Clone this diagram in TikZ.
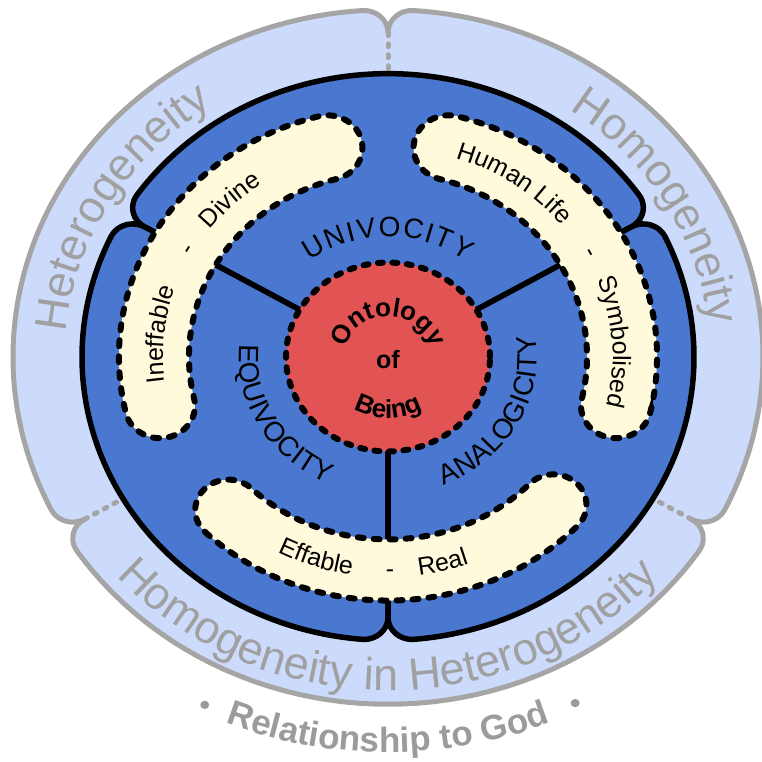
\documentclass[tikz,border=0pt]{standalone}
\usepackage{fontspec}
\setmainfont{Liberation Sans}
\usetikzlibrary{decorations.text}

\definecolor{ringfill}{RGB}{204,219,251}
\definecolor{ringline}{RGB}{165,165,165}
\definecolor{ringtext}{RGB}{160,160,160}
\definecolor{godtext}{RGB}{155,155,155}
\definecolor{diskblue}{RGB}{74,120,208}
\definecolor{bandcream}{RGB}{255,250,220}
\definecolor{corered}{RGB}{226,84,84}

\tikzset{
  ringlobe/.style={fill=ringfill},
  ringedge/.style={draw=ringline, line width=5pt, line join=round},
  ringseam/.style={draw=ringline, line width=5pt, line cap=round, dash pattern=on 3pt off 8pt},
  disklobe/.style={fill=diskblue, draw=black, line width=5.5pt, line join=round},
  bandshape/.style={fill=bandcream, draw=black, line width=6pt, line cap=round, dash pattern=on 6pt off 10pt},
  coreshape/.style={fill=corered, draw=black, line width=6pt, line cap=round, dash pattern=on 5pt off 9.5pt},
  ringword/.style={decorate, decoration={text along path, text align=center, text color=ringtext,
      text={|\fontsize{45}{45}\selectfont|#1}}},
  godword/.style={decorate, decoration={text along path, text align=center, text color=godtext,
      text={|\fontsize{35}{35}\selectfont\bfseries|#1}}},
  bandword/.style={decorate, decoration={text along path, text align=center, text color=black,
      text={|\fontsize{25}{25}\selectfont|#1}}},
  modeword/.style={decorate, decoration={text along path, text align=fit to path, text color=black,
      text={|\fontsize{28}{28}\selectfont|#1}}},
  coreword/.style={decorate, decoration={text along path, text align=center, text color=black,
      text={|\fontsize{26}{26}\selectfont\bfseries|#1}}},
}

\begin{document}
\begin{tikzpicture}[x=1pt, y=1pt]
\useasboundingbox (-388,-405) rectangle (374,357);
\begin{scope}[yscale=0.926]
  % corner geometry of the rounded lobes
  \pgfmathsetmacro\bdel{asin(24/282)}
  \pgfmathsetmacro\bd{282*cos(\bdel)}
  \pgfmathsetmacro\rdel{asin(24/351)}
  \pgfmathsetmacro\rd{351*cos(\rdel)}

  % outer light ring: three lobes
  \foreach \a/\b in {90/210, 210/330, 330/450} {
    \path[ringlobe] (0,0) -- (\a:\rd)
      arc[start angle=\a-90, end angle=\a+\rdel, radius=24]
      arc[start angle=\a+\rdel, end angle=\b-\rdel, radius=375]
      arc[start angle=\b-\rdel, end angle=\b+90, radius=24] -- cycle;
  }
  \foreach \a/\b in {90/210, 210/330, 330/450} {
    \draw[ringedge] (\a:\rd)
      arc[start angle=\a-90, end angle=\a+\rdel, radius=24]
      arc[start angle=\a+\rdel, end angle=\b-\rdel, radius=375]
      arc[start angle=\b-\rdel, end angle=\b+90, radius=24];
  }
  \foreach \a in {90, 210, 330} {
    \draw[ringseam] (\a:\rd) -- (\a:306);
  }

  % blue disk: three lobes meeting along the spokes
  \foreach \a/\b in {30/150, 150/270, 270/390} {
    \path[disklobe] (0,0) -- (\a:\bd)
      arc[start angle=\a-90, end angle=\a+\bdel, radius=24]
      arc[start angle=\a+\bdel, end angle=\b-\bdel, radius=306]
      arc[start angle=\b-\bdel, end angle=\b+90, radius=24] -- cycle;
  }

  % cream bands
  \foreach \a/\b/\r/\h in {105/193/234/35, -13/75/234/35, 226/316/230/33} {
    \path[bandshape] ({\a}:{\r+\h})
      arc[start angle=\a, end angle=\b, radius=\r+\h]
      arc[start angle=\b, end angle=\b+180, radius=\h]
      arc[start angle=\b, end angle=\a, radius=\r-\h]
      arc[start angle=\a+180, end angle=\a+360, radius=\h] -- cycle;
  }

  % central circle
  \path[coreshape] (0,0) circle (102);

  % ring labels
  \path[ringword=Heterogeneity] (205:323) arc[start angle=205, end angle=95, radius=323];
  \path[ringword=Homogeneity] (85:323) arc[start angle=85, end angle=-25, radius=323];
  \path[ringword=Homogeneity in Heterogeneity] (215:360) arc[start angle=215, end angle=325, radius=360];
  \path[godword=Relationship to God] (235:427) arc[start angle=235, end angle=305, radius=427];
  \fill[godtext] (244:418) circle (4.5);
  \fill[godtext] (296.6:418) circle (4.5);

  % band labels
  \path[bandword=Ineffable] (200:225) arc[start angle=200, end angle=148, radius=225];
  \path[bandword=-] (160:225) arc[start angle=160, end angle=140, radius=225];
  \path[bandword=Divine] (155:225) arc[start angle=155, end angle=111.8, radius=225];
  \path[bandword=Human Life] (85:225) arc[start angle=85, end angle=26.2, radius=225];
  \path[bandword=-] (39:225) arc[start angle=39, end angle=19, radius=225];
  \path[bandword=Symbolised] (40:225) arc[start angle=40, end angle=-32, radius=225];
  \path[bandword=Effable] (221.5:238) arc[start angle=221.5, end angle=281.5, radius=238];
  \path[bandword=-] (260.5:238) arc[start angle=260.5, end angle=280.5, radius=238];
  \path[bandword=Real] (263.8:238) arc[start angle=263.8, end angle=303.8, radius=238];

  % the three modes
  \path[modeword=UNIVOCITY] (127:130) arc[start angle=127, end angle=53, radius=130];
  \path[modeword=EQUIVOCITY] (175:149) arc[start angle=175, end angle=246, radius=149];
  \path[modeword=ANALOGICITY] (292:149) arc[start angle=292, end angle=369, radius=149];

  % centre words
  \path[coreword=Ontology] (162:44) arc[start angle=162, end angle=18, radius=44];
  \node[font=\fontsize{25}{25}\selectfont\bfseries, inner sep=0pt] (of) at (0,-3) {of};
  \path[coreword=Being] (225:66) arc[start angle=225, end angle=315, radius=66];
\end{scope}
\end{tikzpicture}
\end{document}
